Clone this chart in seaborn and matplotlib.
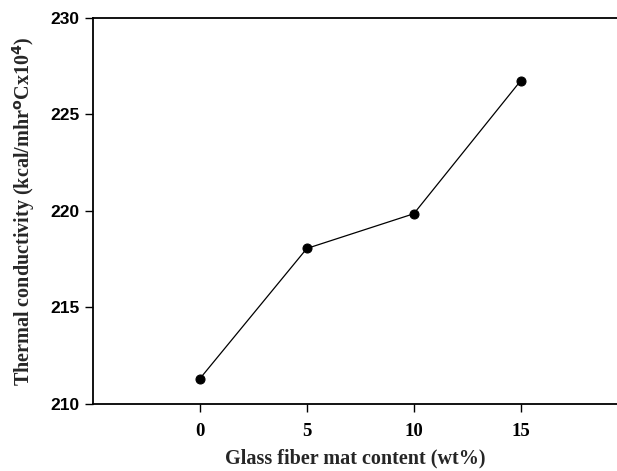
import matplotlib
matplotlib.use("Agg")
import matplotlib.pyplot as plt
from matplotlib import font_manager
import pandas as pd
import seaborn as sns

# glass fiber mat content (wt%) vs thermal conductivity
fiber_content = [0, 5, 10, 15]
conductivity = [211.3, 218.05, 219.85, 226.75]
x_ticks = [0, 5, 10, 15]
y_ticks = [210, 215, 220, 225, 230]

df = pd.DataFrame({"content": fiber_content, "k": conductivity})

# find the regular-width Liberation Sans bold (not the narrow one)
sans_bold = None
for f in font_manager.findSystemFonts():
    if f.endswith("LiberationSans-Bold.ttf"):
        sans_bold = font_manager.FontProperties(fname=f, size=12.5)
        break
if sans_bold is None:
    sans_bold = font_manager.FontProperties(family="DejaVu Sans", weight="bold", size=11)

sns.set_style("ticks")

fig = plt.figure(figsize=(6.17, 4.71), dpi=100)
ax = fig.add_axes([0.1507, 0.1429, 0.8493, 0.8189])

sns.lineplot(data=df, x="content", y="k", ax=ax, color="black", linewidth=0.9,
             marker="o", markersize=6.5, markeredgecolor="black",
             markerfacecolor="black")

ax.set_xlim(-5, 19.5)
ax.set_ylim(210, 230)
ax.set_xticks(x_ticks)
ax.set_yticks(y_ticks)

for s in ["left", "top", "bottom"]:
    ax.spines[s].set_linewidth(1.3)
    ax.spines[s].set_color("black")
ax.spines["right"].set_visible(False)

ax.tick_params(axis="both", direction="out", length=6, width=1, colors="black")
ax.tick_params(axis="x", pad=8)
ax.set_xticklabels([str(t) for t in x_ticks], fontfamily="Liberation Serif",
                   fontweight="bold", fontsize=13.5)
ax.set_yticklabels([str(t) for t in y_ticks], fontproperties=sans_bold)

ax.set_xlabel("Glass fiber mat content (wt%)", fontfamily="Liberation Serif",
              fontweight="bold", fontsize=14.5, labelpad=6)
ax.set_ylabel("Thermal conductivity (kcal/mhr$^\\mathbf{o}$Cx10$^\\mathbf{4}$)",
              fontfamily="Liberation Serif", fontweight="bold", fontsize=14.5,
              labelpad=10)

fig.savefig("out.png", dpi=100)
plt.close(fig)
